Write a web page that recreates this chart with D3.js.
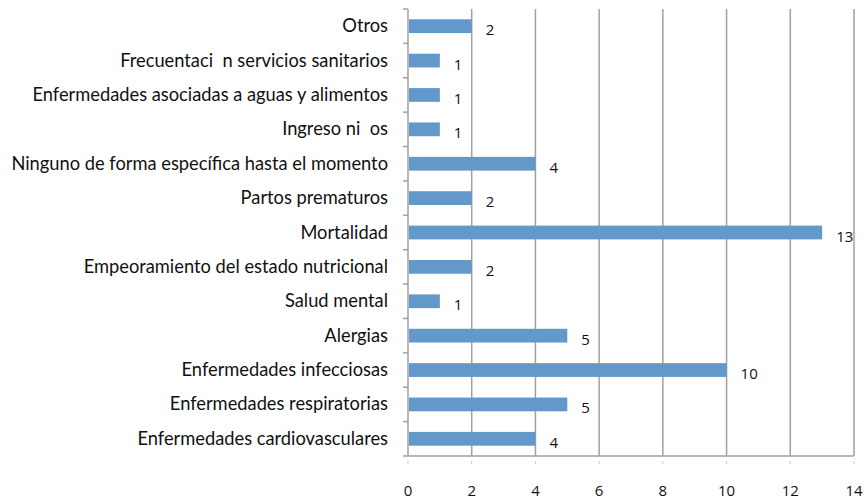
<!DOCTYPE html>
<html><head><meta charset="utf-8">
<script src="https://cdn.jsdelivr.net/npm/d3@7"></script>
<style>body{margin:0;background:#fff}svg{display:block}</style>
</head><body><svg id="c" width="864" height="501"></svg>
<script>
const categories = ["Otros","Frecuentaci  n servicios sanitarios","Enfermedades asociadas a aguas y alimentos","Ingreso ni  os","Ninguno de forma específica hasta el momento","Partos prematuros","Mortalidad","Empeoramiento del estado nutricional","Salud mental","Alergias","Enfermedades infecciosas","Enfermedades respiratorias","Enfermedades cardiovasculares"];
const values = [2,1,1,1,4,2,13,2,1,5,10,5,4];
const ticks = [0,2,4,6,8,10,12,14];

const svg = d3.select("#c");
const L=408, R=854, T=9, B=456;
const x = d3.scaleLinear().domain([0,14]).range([L,R]);
const y = d3.scaleBand().domain(categories).range([T,B]).paddingInner(0.6).paddingOuter(0.3);
const grid="#a0a0a0";

svg.append("g").selectAll("line").data(ticks.slice(1)).join("line")
  .attr("x1",d=>x(d)).attr("x2",d=>x(d)).attr("y1",T).attr("y2",B)
  .attr("stroke",grid).attr("stroke-width",1.5);
svg.append("line").attr("x1",L).attr("x2",R).attr("y1",B).attr("y2",B).attr("stroke",grid).attr("stroke-width",1.5);
svg.append("line").attr("x1",L).attr("x2",L).attr("y1",T).attr("y2",B).attr("stroke",grid).attr("stroke-width",1.5);
const step=(B-T)/categories.length;
svg.append("g").selectAll("line").data(d3.range(categories.length+1)).join("line")
  .attr("x1",L-5).attr("x2",L).attr("y1",i=>T+i*step).attr("y2",i=>T+i*step)
  .attr("stroke",grid).attr("stroke-width",1.5);
svg.append("g").selectAll("line").data(ticks).join("line")
  .attr("x1",d=>x(d)).attr("x2",d=>x(d)).attr("y1",461).attr("y2",464)
  .attr("stroke","#c8c8c8").attr("stroke-width",1);

svg.append("g").selectAll("rect").data(values).join("rect")
  .attr("x",L+1).attr("y",(d,i)=>y(categories[i]))
  .attr("width",d=>x(d)-L-1).attr("height",y.bandwidth())
  .attr("fill","#6398cb");

svg.append("g").selectAll("text").data(values).join("text")
  .attr("x",d=>x(d)+14).attr("y",(d,i)=>y(categories[i])+y.bandwidth()/2+9)
  .attr("font-family","Open Sans, sans-serif").attr("font-size",15).attr("fill","#111")
  .text(d=>d);

svg.append("g").selectAll("text").data(categories).join("text")
  .attr("x",388).attr("y",d=>y(d)+y.bandwidth()/2+6)
  .attr("text-anchor","end").attr("font-family","Lato, sans-serif").attr("font-size",18.3)
  .attr("fill","#111").style("white-space","pre").text(d=>d);

svg.append("g").selectAll("text").data(ticks).join("text")
  .attr("x",d=>x(d)).attr("y",496).attr("text-anchor","middle")
  .attr("font-family","Open Sans, sans-serif").attr("font-size",15).attr("fill","#111")
  .text(d=>d);
</script></body></html>
